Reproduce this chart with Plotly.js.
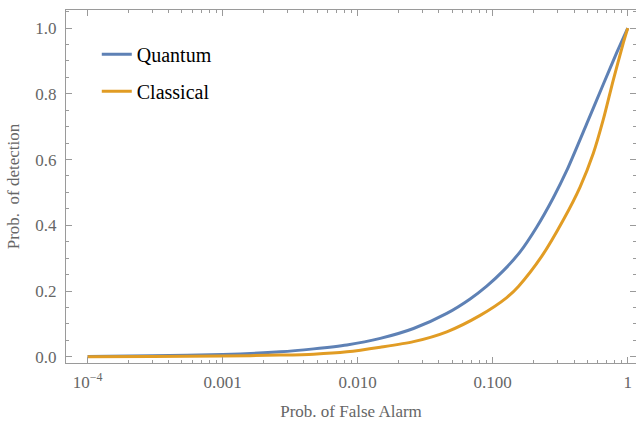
<!DOCTYPE html>
<html>
<head>
<meta charset="utf-8">
<script src="https://cdn.plot.ly/plotly-3.0.1.min.js"></script>
<style>html,body{margin:0;padding:0;background:#fff;}#chart{width:636px;height:421px;}</style>
</head>
<body>
<div id="chart"></div>
<script>
// Quantum ROC curve
const quantumX = [0.0001, 0.0003, 0.001, 0.00267, 0.00471, 0.00832, 0.0147, 0.0259, 0.0457, 0.068, 0.0903, 0.120, 0.160, 0.212, 0.281, 0.353, 0.498, 0.659, 0.830, 1];
const quantumY = [0.001, 0.003, 0.007, 0.015, 0.024, 0.036, 0.056, 0.086, 0.132, 0.176, 0.215, 0.262, 0.320, 0.395, 0.484, 0.566, 0.710, 0.829, 0.926, 1];
// Classical ROC curve
const classicalX = [0.0001, 0.0003, 0.001, 0.00267, 0.00471, 0.00832, 0.0147, 0.0259, 0.0457, 0.0807, 0.127, 0.155, 0.231, 0.333, 0.444, 0.556, 0.659, 0.781, 0.927, 1];
const classicalY = [0.0002, 0.0007, 0.002, 0.005, 0.008, 0.015, 0.029, 0.046, 0.076, 0.126, 0.180, 0.214, 0.306, 0.416, 0.517, 0.619, 0.722, 0.842, 0.955, 1];

const xTickVals = [0.0001, 0.001, 0.01, 0.1, 1];
const xTickText = ["10<sup>\u22124</sup>", "0.001", "0.010", "0.100", "1"];
const xMinorVals = [];
for (let d = -4; d < 0; d++) for (let m = 2; m <= 9; m++) xMinorVals.push(m * Math.pow(10, d));
const yTickVals = [0, 0.2, 0.4, 0.6, 0.8, 1.0];
const yTickText = ["0.0", "0.2", "0.4", "0.6", "0.8", "1.0"];

const serif = "Liberation Serif, Times New Roman, serif";
const grey = "#666666";
const frame = "#9a9a9a";

const traces = [
  {x: quantumX, y: quantumY, name: "Quantum", mode: "lines", legendgroup: "q",
   line: {color: "#5E81B5", width: 3, shape: "spline", smoothing: 0.7}},
  {x: classicalX, y: classicalY, name: "Classical", mode: "lines", legendgroup: "c",
   line: {color: "#E19C24", width: 3, shape: "spline", smoothing: 0.7}}
];

const layout = {
  width: 636, height: 421,
  margin: {l: 66, r: 0, t: 10, b: 58},
  paper_bgcolor: "#fff", plot_bgcolor: "#fff",
  font: {family: serif, color: grey, size: 17},
  showlegend: true,
  legend: {x: 0.054, y: 0.93, xanchor: "left", yanchor: "top",
    font: {family: serif, size: 20, color: "#000"},
    bgcolor: "rgba(0,0,0,0)", traceorder: "grouped", tracegroupgap: 8},
  xaxis: {
    type: "log", range: [-4.16, 0.061],
    tickmode: "array", tickvals: xTickVals, ticktext: xTickText,
    ticks: "inside", ticklen: 6, tickcolor: frame, tickwidth: 1,
    minor: {tickmode: "array", tickvals: xMinorVals, ticks: "inside", ticklen: 3, tickcolor: frame},
    showline: true, linecolor: frame, linewidth: 1, mirror: "allticks",
    showgrid: false, zeroline: false,
    ticklabelstandoff: 4,
    tickfont: {family: serif, size: 17, color: grey},
    title: {text: "Prob. of False Alarm", font: {family: serif, size: 17, color: grey}, standoff: 14}
  },
  yaxis: {
    range: [-0.019, 1.055],
    tickmode: "array", tickvals: yTickVals, ticktext: yTickText,
    ticks: "inside", ticklen: 6, tickcolor: frame, tickwidth: 1,
    minor: {dtick: 0.05, ticks: "inside", ticklen: 3, tickcolor: frame},
    showline: true, linecolor: frame, linewidth: 1, mirror: "allticks",
    showgrid: false, zeroline: false,
    ticklabelstandoff: 5,
    tickfont: {family: serif, size: 17, color: grey},
    title: {text: "Prob.  of detection", font: {family: serif, size: 17, color: grey}, standoff: 11}
  }
};

Plotly.newPlot("chart", traces, layout, {displayModeBar: false, staticPlot: true});
</script>
</body>
</html>
